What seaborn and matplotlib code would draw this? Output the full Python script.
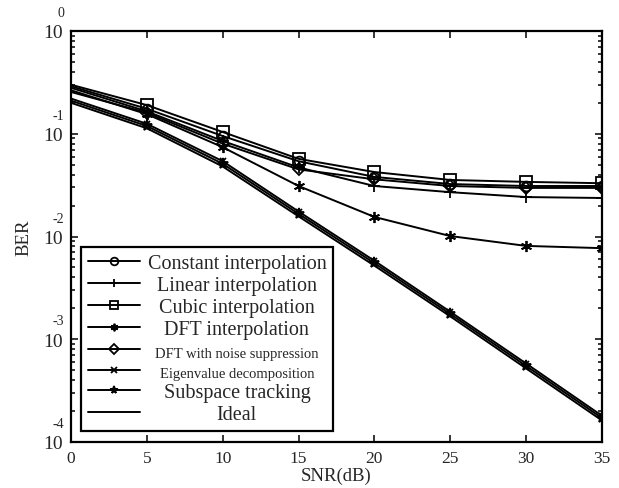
import numpy as np
import pandas as pd
import matplotlib
matplotlib.use('Agg')
import matplotlib.pyplot as plt
import seaborn as sns

# SNR points and BER curves
snr = [0, 5, 10, 15, 20, 25, 30, 35]
ber_constant = [0.29, 0.175, 0.095, 0.054, 0.038, 0.0324, 0.031, 0.031]
ber_linear = [0.28, 0.165, 0.085, 0.047, 0.031, 0.027, 0.0242, 0.0237]
ber_cubic = [0.30, 0.19, 0.104, 0.057, 0.0424, 0.0355, 0.034, 0.033]
ber_dft = [0.265, 0.155, 0.074, 0.031, 0.0155, 0.0101, 0.0081, 0.0077]
ber_dft_ns = [0.255, 0.16, 0.08, 0.045, 0.036, 0.031, 0.0297, 0.0297]
ber_eigen = [0.22, 0.125, 0.054, 0.0175, 0.0058, 0.00185, 0.00058, 0.00018]
ber_subspace = [0.21, 0.119, 0.051, 0.0166, 0.0055, 0.00176, 0.00055, 0.000171]
ber_ideal = [0.20, 0.113, 0.048, 0.0157, 0.0052, 0.00167, 0.00052, 0.000162]

labels = ['Constant interpolation', 'Linear interpolation', 'Cubic interpolation',
          'DFT interpolation', 'DFT with noise suppression', 'Eigenvalue decomposition',
          'Subspace tracking', 'Ideal']
curves = [ber_constant, ber_linear, ber_cubic, ber_dft, ber_dft_ns, ber_eigen, ber_subspace, ber_ideal]
markers = ['o', '+', 's', (6, 2, 0), 'D', 'x', '*', None]
msizes = [7, 9, 8, 8, 6, 5, 8, 0]
fills = ['none', 'none', 'none', 'k', 'none', 'k', 'k', 'none']
legend_sizes = [14.5, 14.5, 14.5, 14.5, 10.5, 10.5, 14.5, 14.5]

sns.set_style('ticks')
plt.rcParams['font.family'] = ['Liberation Serif', 'DejaVu Serif']

fig = plt.figure(figsize=(6.19, 4.89), dpi=100)
ax = fig.add_axes([71/619, 1-443/489, 531/619, 411/489])

for lab, ys, mk, ms, fc in zip(labels, curves, markers, msizes, fills):
    df = pd.DataFrame({'snr': snr, 'ber': ys})
    kw = dict(color='k', linewidth=1.4, label=lab, ax=ax)
    if mk is not None:
        kw.update(marker=mk, markersize=ms, markerfacecolor=fc, markeredgecolor='k',
                  markeredgewidth=1.3, markevery=list(range(1, len(snr))))
    sns.lineplot(data=df, x='snr', y='ber', **kw)

ax.set_yscale('log')
ax.set_xlim(0, 35)
ax.set_ylim(1e-4, 1)
ax.set_xticks(range(0, 36, 5))
ax.set_xticklabels([str(v) for v in range(0, 36, 5)], fontsize=12.5)
decades = [-4, -3, -2, -1, 0]
ax.set_yticks([10.0**d for d in decades])
ax.set_yticklabels(['10'] * len(decades), fontsize=14)
ax.yaxis.set_minor_formatter(matplotlib.ticker.NullFormatter())
for d in decades:
    ax.annotate(str(d), xy=(0, 10.0**d), xycoords=('axes fraction', 'data'),
                xytext=(-5, 8.5), textcoords='offset points', ha='right', va='bottom',
                fontsize=10)

ax.tick_params(which='both', direction='in', top=True, right=True, width=1.3)
ax.tick_params(which='major', length=5, pad=6)
ax.tick_params(which='minor', length=3)
for sp in ax.spines.values():
    sp.set_linewidth(1.6)
    sp.set_color('k')

ax.set_xlabel('SNR(dB)', fontsize=13.5)
ax.set_ylabel('BER', fontsize=13.5)
ax.xaxis.set_label_coords(0.5, -0.06)
ax.yaxis.set_label_coords(-0.073, 0.5)

leg = ax.legend(loc='lower left', bbox_to_anchor=(0.019, 0.027), borderaxespad=0,
                fontsize=14.5, handlelength=2.6, handletextpad=0.35, labelspacing=0.15,
                fancybox=False, framealpha=1, edgecolor='k', borderpad=0.35)
leg.get_frame().set_linewidth(1.6)
for t, s in zip(leg.get_texts(), legend_sizes):
    t.set_fontsize(s)
for h in leg.legend_handles:
    h.set_markersize(min(h.get_markersize(), 5.5))

# center the legend texts in their column, like the reference
fig.canvas.draw()
r = fig.canvas.get_renderer()
widths = [t.get_window_extent(r).width for t in leg.get_texts()]
wmax = max(widths)
for t, w in zip(leg.get_texts(), widths):
    t.set_position(((wmax - w) / 2, 0))

fig.savefig('out.png', dpi=100)
